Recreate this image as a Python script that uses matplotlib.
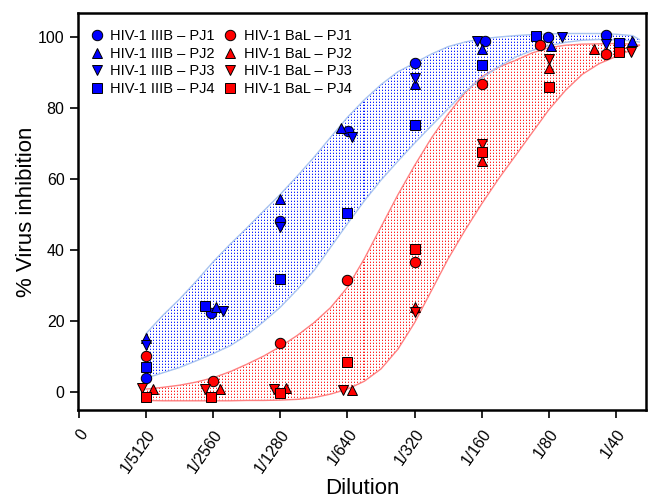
import numpy as np
import matplotlib
matplotlib.use("Agg")
import matplotlib.pyplot as plt
from matplotlib.colors import to_rgba

plt.rcParams["font.family"] = ["Liberation Sans", "DejaVu Sans"]

# dilution labels (index 0..8 on x axis)
dilutions = ["0", "1/5120", "1/2560", "1/1280", "1/640", "1/320", "1/160", "1/80", "1/40"]
dil_idx = [1, 2, 3, 4, 5, 6, 7, 8]

# % virus inhibition, HIV-1 IIIB
iiib_pj1 = [3.9, 22.2, 48.3, 73.5, 92.8, 98.9, 99.9, 100.6]
iiib_pj2 = [15.1, 24.0, 54.5, 74.3, 86.8, 96.5, 97.5, 99.0]
iiib_pj3 = [13.2, 22.8, 46.4, 71.9, 88.5, 99.0, 99.9, 98.0]
iiib_pj4 = [7.0, 24.2, 31.9, 50.3, 75.2, 92.1, 100.3, 98.4]

# % virus inhibition, HIV-1 BaL
bal_pj1 = [10.1, 3.0, 13.9, 31.4, 36.6, 86.7, 97.7, 95.2]
bal_pj2 = [0.8, 0.8, 1.0, 0.6, 24.0, 65.1, 91.4, 96.5]
bal_pj3 = [1.0, 0.8, 0.8, 0.6, 22.5, 70.0, 93.7, 95.7]
bal_pj4 = [-1.5, -1.3, -0.4, 8.3, 40.3, 67.5, 85.8, 95.7]

# small horizontal jitter of the symbols (in dilution steps)
jit_iiib_pj1 = [0, -0.04, 0, 0.01, 0, 0.05, -0.01, -0.14]
jit_iiib_pj2 = [0, 0.04, 0, -0.10, 0, 0, 0.04, 0.24]
jit_iiib_pj3 = [0, 0.15, 0, 0.06, 0, -0.07, 0.20, -0.14]
jit_iiib_pj4 = [0, -0.12, 0, 0, 0, 0, -0.19, 0.05]
jit_bal_pj1 = [0, 0, 0, 0, 0, 0, -0.13, -0.14]
jit_bal_pj2 = [0.10, 0.10, 0.09, 0.07, 0, 0, 0, -0.32]
jit_bal_pj3 = [-0.07, -0.13, -0.09, -0.06, 0, 0, 0, 0.22]
jit_bal_pj4 = [-0.01, -0.03, 0, 0, 0, 0, 0, 0.05]

# shaded bands, read along the band edges
band_x = [1.0, 1.25, 1.5, 1.75, 2.0, 2.25, 2.5, 2.75, 3.0, 3.25, 3.5, 3.75, 4.0, 4.25, 4.5, 4.75,
          5.0, 5.25, 5.5, 5.75, 6.0, 6.25, 6.5, 6.75, 7.0, 7.25, 7.5, 7.75, 8.0, 8.25, 8.35]
iiib_hi = [16.5, 21.6, 26.2, 31.3, 36.7, 41.6, 46.2, 51.0, 55.7, 60.8, 66.1, 71.8, 77.4, 82.3, 86.6, 90.2,
           92.7, 95.2, 97.3, 98.6, 99.5, 100.0, 100.4, 100.7, 100.9, 101.0, 101.0, 101.0, 100.8, 100.4, 99.3]
iiib_lo = [3.9, 5.4, 6.9, 8.8, 10.8, 13.0, 16.0, 19.8, 23.9, 28.8, 34.2, 40.8, 47.4, 53.8, 59.7, 65.0,
           70.1, 75.0, 79.8, 84.6, 88.4, 91.6, 94.3, 96.2, 97.6, 98.5, 99.1, 99.3, 99.2, 98.9, 98.6]
bal_hi = [0.8, 1.3, 1.9, 2.8, 4.0, 5.7, 7.8, 10.1, 12.8, 15.9, 19.5, 23.8, 29.5, 37.5, 46.5, 55.5,
          63.8, 71.5, 78.3, 84.3, 88.8, 91.5, 93.4, 95.5, 97.0, 97.7, 98.0, 98.1, 98.2, 98.0, 97.7]
bal_lo = [-2.4, -2.5, -2.5, -2.5, -2.5, -2.5, -2.4, -2.4, -2.3, -2.1, -1.6, -0.6, 0.8, 3.0, 6.5, 12.0,
          19.5, 28.5, 37.5, 45.5, 53.0, 60.0, 66.5, 73.0, 79.5, 85.0, 89.5, 92.5, 94.5, 96.5, 97.7]

fig = plt.figure(figsize=(6.48, 4.97), dpi=100)
ax = fig.add_axes([0.120, 0.175, 0.877, 0.799])
xlim = (-0.02, 8.45)
ylim = (-5.1, 106.8)
ax.set_xlim(*xlim)
ax.set_ylim(*ylim)

# dotted texture (about one dot every 3 screen pixels)
H, W = 397, 568
yy, xx = np.mgrid[0:H, 0:W]


def dot_texture(dark, light):
    img = np.ones((H, W, 4))
    img[(xx % 3 == 0) & (yy % 3 == 0)] = to_rgba(dark)
    img[(xx % 3 == 0) & (yy % 3 == 1)] = to_rgba(light)
    return img


def dotted_band(lo, hi, dark, light, edge):
    poly = ax.fill_between(band_x, lo, hi, facecolor="none", linewidth=0)
    im = ax.imshow(dot_texture(dark, light), extent=(*xlim, *ylim), origin="lower",
                   interpolation="nearest", aspect="auto", zorder=1)
    im.set_clip_path(poly.get_paths()[0], transform=ax.transData)
    ax.plot(band_x, hi, color=edge, lw=1, zorder=2)
    ax.plot(band_x, lo, color=edge, lw=1, zorder=2)


dotted_band(bal_lo, bal_hi, "#ff2020", "#ffb4b4", "#ff8080")
dotted_band(iiib_lo, iiib_hi, "#1020ff", "#b4bcff", "#a8c4f0")

series = [
    (iiib_pj1, jit_iiib_pj1, "o", "#0000ff", "HIV-1 IIIB – PJ1"),
    (iiib_pj2, jit_iiib_pj2, "^", "#0000ff", "HIV-1 IIIB – PJ2"),
    (iiib_pj3, jit_iiib_pj3, "v", "#0000ff", "HIV-1 IIIB – PJ3"),
    (iiib_pj4, jit_iiib_pj4, "s", "#0000ff", "HIV-1 IIIB – PJ4"),
    (bal_pj1, jit_bal_pj1, "o", "#ff0000", "HIV-1 BaL – PJ1"),
    (bal_pj2, jit_bal_pj2, "^", "#ff0000", "HIV-1 BaL – PJ2"),
    (bal_pj3, jit_bal_pj3, "v", "#ff0000", "HIV-1 BaL – PJ3"),
    (bal_pj4, jit_bal_pj4, "s", "#ff0000", "HIV-1 BaL – PJ4"),
]
for vals, jit, mk, col, lab in series:
    xs = np.array(dil_idx) + np.array(jit)
    ms = 6.5 if mk == "s" else 7.5
    ax.plot(xs, vals, linestyle="none", marker=mk, ms=ms, mfc=col, mec="black",
            mew=0.7, label=lab, zorder=3)

ax.set_xlim(*xlim)
ax.set_ylim(*ylim)
ax.set_xticks(range(len(dilutions)))
ax.set_xticklabels(dilutions, rotation=55, ha="right", rotation_mode="anchor")
ax.set_yticks([0, 20, 40, 60, 80, 100])
ax.tick_params(direction="out", length=6, width=1.2, labelsize=11.5)
ax.tick_params(axis="x", pad=6)
for s in ax.spines.values():
    s.set_linewidth(1.8)

ax.set_xlabel("Dilution", fontsize=16)
ax.xaxis.set_label_coords(0.5, -0.17)
ax.set_ylabel("% Virus inhibition", fontsize=16, labelpad=1)

ax.legend(loc="upper left", bbox_to_anchor=(0.0, 0.985), ncol=2, frameon=False, fontsize=10.5,
          handletextpad=0.3, columnspacing=0.5, labelspacing=0.25, borderaxespad=0.3,
          handlelength=1.2)

fig.savefig("out.png", dpi=100)
